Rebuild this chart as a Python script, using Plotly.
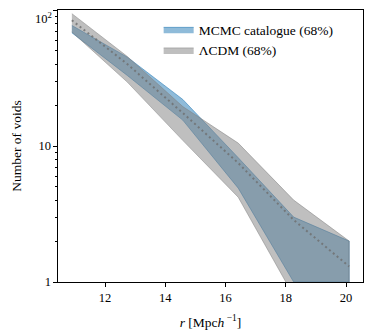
import plotly.graph_objects as go

# void radius bin centres [Mpc/h]
r = [10.9, 12.74, 14.58, 16.42, 18.26, 20.1]

# MCMC catalogue 68% band
mcmc_hi = [77, 45, 22, 8.2, 3.0, 2.0]
mcmc_lo = [68, 33, 15.5, 4.9, 1.0, 1.0]

# LCDM 68% band and median
lcdm_hi = [94, 45.5, 19.5, 10.5, 4.0, 2.0]
lcdm_lo = [69, 29.5, 11, 4.2, 0.79, 0.5]
lcdm_med = [84, 40, 17.5, 7.5, 2.86, 1.3]

font = "Liberation Serif, Times New Roman, serif"

fig = go.Figure()

fig.add_trace(go.Scatter(
    x=r + r[::-1], y=mcmc_hi + mcmc_lo[::-1],
    fill="toself", fillcolor="rgba(31,119,180,0.5)",
    line=dict(color="rgba(31,119,180,0.55)", width=1),
    mode="lines", name="MCMC catalogue (68%)", hoverinfo="skip"))

fig.add_trace(go.Scatter(
    x=r + r[::-1], y=lcdm_hi + lcdm_lo[::-1],
    fill="toself", fillcolor="rgba(128,128,128,0.5)",
    line=dict(color="rgba(128,128,128,0.5)", width=1),
    mode="lines", name="ΛCDM (68%)", hoverinfo="skip"))

fig.add_trace(go.Scatter(
    x=r, y=lcdm_med, mode="lines",
    line=dict(color="rgba(110,110,110,0.8)", width=2, dash="2px,3px"),
    showlegend=False, hoverinfo="skip"))

minor_vals = [v * m for m in (1, 10) for v in range(2, 10)]

# page body adds ~8px offset, so margins are shifted to compensate
fig.update_layout(
    width=374, height=332,
    margin=dict(l=50, r=19, t=2, b=58, autoexpand=False),
    paper_bgcolor="white", plot_bgcolor="white",
    font=dict(family=font, size=13, color="black"),
    showlegend=True,
    legend=dict(x=0.33, y=0.985, xanchor="left", yanchor="top",
                bgcolor="rgba(0,0,0,0)", font=dict(size=13.5),
                itemwidth=30, tracegroupgap=0),
    xaxis=dict(
        range=[10.44, 20.56], tickvals=[12, 14, 16, 18, 20],
        ticks="outside", ticklen=3.5, tickwidth=1, tickcolor="black",
        tickfont=dict(size=12.5), automargin=False,
        showline=True, linecolor="black", linewidth=1.2, mirror=True,
        showgrid=False, zeroline=False,
        title=dict(text="<i>r</i> [Mpc<i>h</i><sup> −1</sup>]", standoff=13,
                   font=dict(size=13.5))),
    yaxis=dict(
        type="log", range=[0, 2], tickvals=[1, 10, 100],
        ticktext=["1", "10", ""],
        ticks="outside", ticklen=3.5, tickwidth=1, tickcolor="black",
        tickfont=dict(size=12.5), automargin=False,
        minor=dict(tickvals=minor_vals, ticks="outside", ticklen=2,
                   tickwidth=0.8, tickcolor="black", showgrid=False),
        showline=True, linecolor="black", linewidth=1.2, mirror=True,
        showgrid=False, zeroline=False,
        title=dict(text="Number of voids", standoff=13, font=dict(size=13.5))),
)

# top tick label sits right at the page edge, nudge it down so it stays visible
fig.add_annotation(text="10<sup>2</sup>", xref="paper", yref="y", x=0, y=2,
                   xanchor="right", yanchor="top", xshift=-4, yshift=2,
                   showarrow=False, font=dict(size=12.5))

fig.write_html("out.html")
